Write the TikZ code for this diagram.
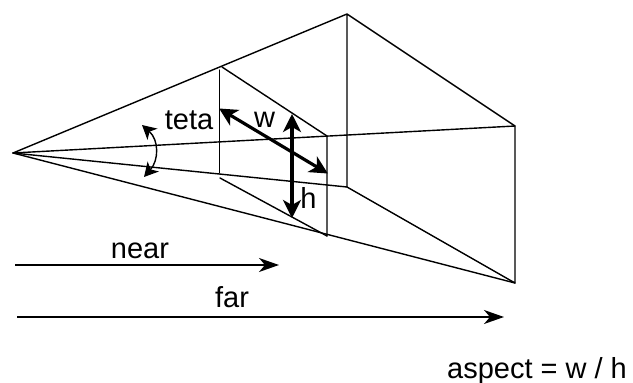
\documentclass[tikz,border=0pt]{standalone}
\usepackage{fontspec}
\setmainfont{Liberation Sans}
\usetikzlibrary{arrows.meta}
\tikzset{
 frustum/.style={draw=black,line width=1.4pt,line cap=round,line join=round},
 thinarrow/.style={draw=black,line width=1.4pt,-{Stealth[length=20pt,width=14pt,inset=6pt]}},
 boldarrow/.style={draw=black,line width=3.2pt,{Stealth[length=18pt,width=18pt,inset=5pt]}-{Stealth[length=18pt,width=18pt,inset=5pt]},shorten <=-1pt,shorten >=-1pt},
 arcarrow/.style={draw=black,line width=1.4pt,{Stealth[length=14pt,width=15pt,inset=4pt]}-{Stealth[length=14pt,width=15pt,inset=4pt]}},
 lbl/.style={inner sep=0pt,anchor=base,font=\fontsize{29}{32}\selectfont,text=black}
}
\begin{document}
\begin{tikzpicture}[x=1pt,y=-1pt]
\useasboundingbox (0,0) rectangle (633,383);
\coordinate (apex) at (13,153);
\coordinate (ftl) at (347,14);
\coordinate (ftr) at (515,126);
\coordinate (fbl) at (347,187);
\coordinate (fbr) at (515,283);
\coordinate (ntl) at (222,67);
\coordinate (ntr) at (327,136);
\coordinate (nbr) at (327,236);
\coordinate (nbl) at (220,178);
\coordinate (nvt) at (219.5,70);
\coordinate (nvb) at (219.5,173);
\draw[frustum] (apex)--(ftl)--(ftr)--(fbr)--(fbl)--(ftl);
\draw[frustum] (apex)--(ftr);
\draw[frustum] (apex)--(fbl);
\draw[frustum] (apex)--(fbr);
\draw[frustum] (ntl)--(ntr)--(nbr);
\draw[frustum] (nbl)--(nbr);
\draw[frustum] (nvt)--(nvb);
\coordinate (wa) at (220,109);
\coordinate (wb) at (327,173);
\coordinate (ha) at (292,115);
\coordinate (hb) at (292,217);
\draw[boldarrow] (wa)--(wb);
\draw[boldarrow] (ha)--(hb);
\coordinate (arca) at (142,125);
\coordinate (arcb) at (144,177);
\draw[arcarrow] (arca) .. controls (159,140) and (159,160) .. (arcb);
\coordinate (na) at (15,265);
\coordinate (nb) at (279,265);
\coordinate (fa) at (17,317);
\coordinate (fb) at (504,317);
\draw[thinarrow] (na)--(nb);
\draw[thinarrow] (fa)--(fb);
\node[lbl] (teta) at (189,129) {teta};
\node[lbl] (w) at (264.5,127) {w};
\node[lbl] (h) at (308.5,208) {h};
\node[lbl] (near) at (140,258) {near};
\node[lbl] (far) at (232,307) {far};
\node[lbl] (aspect) at (537,378) {aspect = w / h};
\end{tikzpicture}
\end{document}
